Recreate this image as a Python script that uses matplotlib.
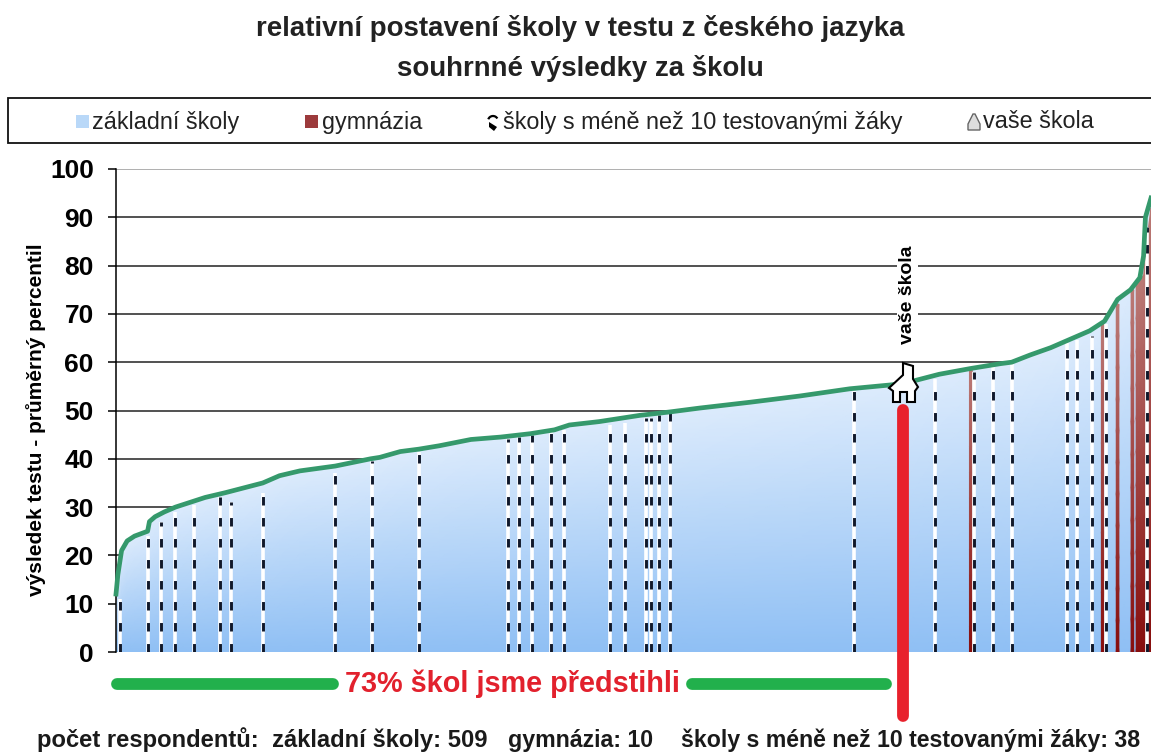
import matplotlib
matplotlib.use("Agg")
import matplotlib.pyplot as plt
import numpy as np
from matplotlib.colors import LinearSegmentedColormap
from matplotlib.lines import Line2D
from matplotlib.patches import Arc, Polygon, Rectangle
from matplotlib.transforms import Affine2D

plt.rcParams['font.family'] = ['Liberation Sans', 'DejaVu Sans']

# Data: schools sorted by result, x is the rank of the school
school_rank = [0, 1, 3, 6, 10, 17, 18, 21, 26, 32, 40, 48, 59, 69, 79, 88, 99, 118, 137, 142,
               153, 163, 174, 191, 207, 223, 236, 244, 260, 282, 298, 314, 341, 368, 395, 417,
               425, 433, 443, 460, 476, 482, 492, 503, 512, 524, 532, 539, 546, 551, 553, 554, 557]
school_score = [12, 16, 21, 23, 24, 25, 27, 28, 29, 30, 31, 32, 33, 34, 35, 36.5, 37.5, 38.5, 40, 40.3,
                41.5, 42, 42.7, 44, 44.5, 45.2, 46, 47, 47.7, 49, 49.7, 50.5, 51.7, 53, 54.5, 55.3,
                55.7, 56.5, 57.5, 58.7, 59.7, 60, 61.5, 63, 64.5, 66.5, 68.5, 73, 75, 77.5, 82, 90, 94]

small_rank = [2, 17, 24, 32, 42, 56, 62, 79, 118, 138, 163, 211, 217, 224, 234, 241, 266, 274, 285,
              288, 292, 298, 397, 441, 462, 472, 482, 512, 517, 525, 533, 555]
small_score = [11, 24, 27, 29, 30.5, 32, 31, 33, 37, 39.5, 41.5, 44, 44.5, 45, 45.5, 46, 47, 47.5, 48.5,
               48.5, 49, 49.5, 54, 56.5, 58, 59, 60, 64, 64.5, 65.5, 68, 88]

gym_rank = [460, 531, 539, 547]
gym_score = [58.5, 68, 72, 75]
gym_block_rank = [549, 551, 553, 554, 555, 557]
gym_block_score = [76, 77, 78, 82, 86, 92]

our_rank = 423.5
yticks = [0, 10, 20, 30, 40, 50, 60, 70, 80, 90, 100]

W, H = 1151, 754
fig = plt.figure(figsize=(W / 100, H / 100), dpi=100)
ax = fig.add_axes([116 / W, 1 - 652 / H, 1 - 116 / W, (652 - 169) / H])
ax.set_xlim(0, 557)
ax.set_ylim(0, 100)

# image pixels -> display, for the things around the plot
px = Affine2D().scale(1, -1).translate(0, H)

blues = LinearSegmentedColormap.from_list("blues", ["#8fbff4", "#dcebfc"])
reds = LinearSegmentedColormap.from_list("reds", ["#870d0d", "#bb7a76"])


def gradient(x, top, cmap, z):
    # one gradient per school, from the axis up to its own score
    v = np.linspace(0, 1, 12)
    X = np.tile(x, (len(v), 1))
    Y = np.outer(v, top)
    C = np.outer(v, np.ones(len(x)))
    ax.pcolormesh(X, Y, C, cmap=cmap, shading='gouraud', vmin=0, vmax=1, zorder=z)


for y in yticks[1:]:
    ax.axhline(y, color='#9a9a9a' if y == 100 else '#222222', lw=1.1, zorder=1)

gradient(np.array(school_rank), np.array(school_score), blues, 2)
for r, s in zip(gym_rank, gym_score):
    gradient(np.array([r - 0.7, r + 0.7]), np.array([s, s]), reds, 3)
gradient(np.array(gym_block_rank), np.array(gym_block_score), reds, 3)

ax.vlines(small_rank, 0, small_score, color='white', lw=2.6, zorder=4)
ax.vlines(small_rank, 0, small_score, color='#10182a', lw=2.1, zorder=5,
          linestyles=[(0, (2.9, 4.3))])
ax.plot(school_rank, school_score, color='#35996c', lw=3.4, zorder=6, clip_on=False)

for s in ['top', 'right', 'bottom']:
    ax.spines[s].set_visible(False)
ax.spines['left'].set_linewidth(1.1)
ax.set_xticks([])
ax.set_yticks(yticks)
ax.tick_params(axis='y', length=6, width=1.1, pad=10)
for t in ax.get_yticklabels():
    t.set_fontsize(19)
    t.set_fontweight('bold')
ax.set_ylabel("výsledek testu - průměrný percentil", fontsize=15, fontweight='bold')
ax.yaxis.set_label_coords((46 - 116) / (W - 116), (652 - 420) / (652 - 169))

# your school: red bar, house, label
ax.plot([our_rank, our_rank], [50.2, -13.2], color='#e8212c', lw=8.5, solid_capstyle='round',
        clip_on=False, zorder=7)
house = [(893, 402), (893, 391), (889, 388), (903, 375), (903, 363), (913, 366), (913, 379), (918, 387),
         (915, 391), (915, 402), (907, 402), (907, 392), (900, 392), (900, 402)]
fig.add_artist(Polygon(house, closed=True, fc='white', ec='black', lw=1.5, transform=px, zorder=8))
ax.text(our_rank + 2.5, 74, "vaše škola", rotation=90, ha='center', va='center', fontsize=14,
        fontweight='bold', zorder=7, bbox=dict(fc='white', ec='none', pad=1.5))

# green bars and the sentence between them
for x0, x1 in [(117, 333), (692, 886)]:
    fig.add_artist(Line2D([x0, x1], [684, 684], color='#22b04c', lw=8.5, solid_capstyle='round', transform=px))
fig.text(512 / W, 1 - 684 / H, "73% škol jsme předstihli", color='#e2212d', fontsize=20.8, fontweight='bold',
         ha='center', va='center')

# title
fig.text(580 / W, 1 - 28 / H, "relativní postavení školy v testu z českého jazyka", fontsize=19.9,
         fontweight='bold', ha='center', va='center', color='#222222')
fig.text(580 / W, 1 - 68 / H, "souhrnné výsledky za školu", fontsize=19.9,
         fontweight='bold', ha='center', va='center', color='#222222')

# legend box
fig.add_artist(Rectangle((8, 98), 1150, 45, fc='white', ec='#111111', lw=1.3, transform=px))
fig.add_artist(Rectangle((76, 115), 13, 13, fc='#b9d8f8', ec='none', transform=px))
fig.add_artist(Rectangle((305, 115), 13, 13, fc='#9c3a3c', ec='none', transform=px))
fig.add_artist(Polygon([(489, 122), (497, 127), (494, 131), (489, 127)], closed=True, fc='black', ec='none', transform=px))
fig.add_artist(Arc((493, 121), 10, 10, theta1=200, theta2=330, color='black', lw=1.6, transform=px))
fig.add_artist(Polygon([(968, 130), (968, 124), (973, 114), (975, 114), (980, 124), (980, 130)], closed=True,
                       fc='#dddddd', ec='#666666', lw=1, transform=px))
for x, label in [(92, "základní školy"), (322, "gymnázia"), (503, "školy s méně než 10 testovanými žáky"),
                 (983, "vaše škola")]:
    fig.text(x / W, 1 - 122 / H, label, fontsize=16.8, ha='left', va='center', color='#222222')

# counts under the chart
for x, label, size in [(37, "počet respondentů:  základní školy: 509", 17.1), (508, "gymnázia: 10", 16.7),
                       (681, "školy s méně než 10 testovanými žáky: 38", 16.7)]:
    fig.text(x / W, 1 - 740 / H, label, fontsize=size, fontweight='bold', ha='left', va='center', color='#1a1a1a')

fig.savefig('out.png', dpi=100)
